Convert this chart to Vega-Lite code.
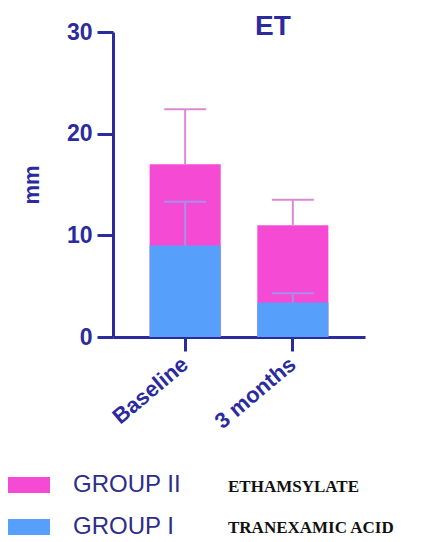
{
  "$schema": "https://vega.github.io/schema/vega-lite/v6.json",
  "width": 252,
  "height": 305,
  "autosize": {"type": "none"},
  "padding": {"left": 113, "top": 32, "right": 56, "bottom": 205},
  "background": "white",
  "title": {
    "text": "ET",
    "fontSize": 28,
    "font": "Liberation Sans",
    "fontWeight": "bold",
    "color": "#2b2b9e",
    "anchor": "middle",
    "baseline": "top",
    "frame": "group",
    "offset": 0,
    "dx": 34,
    "dy": 20
  },
  "data": {
    "values": [
      {"time": "Baseline", "group": "GROUP II", "drug": "ETHAMSYLATE", "mean": 17, "upper": 22.4},
      {"time": "3 months", "group": "GROUP II", "drug": "ETHAMSYLATE", "mean": 11, "upper": 13.5},
      {"time": "Baseline", "group": "GROUP I", "drug": "TRANEXAMIC ACID", "mean": 9, "upper": 13.3},
      {"time": "3 months", "group": "GROUP I", "drug": "TRANEXAMIC ACID", "mean": 3.4, "upper": 4.3}
    ]
  },
  "encoding": {
    "x": {
      "field": "time",
      "type": "nominal",
      "sort": ["Baseline", "3 months"],
      "scale": {"paddingInner": 0.34, "paddingOuter": 0.34},
      "axis": {
        "title": null,
        "labelAngle": -40,
        "labelAlign": "right",
        "labelBaseline": "middle",
        "labelPadding": 10,
        "labelFontSize": 22,
        "tickSize": 14
      }
    }
  },
  "layer": [
    {
      "mark": {"type": "bar"},
      "encoding": {
        "y": {
          "field": "mean",
          "type": "quantitative",
          "stack": null,
          "scale": {"domain": [0, 30], "nice": false},
          "axis": {
            "title": "mm",
            "values": [0, 10, 20, 30],
            "labelFontSize": 23,
            "labelPadding": 5,
            "tickSize": 16,
            "titleFontSize": 22,
            "titlePadding": 23
          }
        },
        "color": {
          "field": "group",
          "type": "nominal",
          "scale": {"domain": ["GROUP II", "GROUP I"], "range": ["#f54bd4", "#56a0fb"]},
          "legend": {
            "orient": "none",
            "legendX": -105,
            "legendY": 432,
            "title": null,
            "symbolType": "M-1,-0.38H1V0.38H-1Z",
            "symbolSize": 1764,
            "symbolStrokeWidth": 0,
            "symbolOpacity": 1,
            "labelFont": "Liberation Sans",
            "labelFontSize": 24,
            "labelColor": "#2d2d8a",
            "labelOffset": 23,
            "labelLimit": 300,
            "rowPadding": 9
          }
        },
        "opacity": {
          "field": "drug",
          "type": "ordinal",
          "scale": {"domain": ["ETHAMSYLATE", "TRANEXAMIC ACID"], "range": [1, 1]},
          "legend": {
            "orient": "none",
            "legendX": 98,
            "legendY": 446,
            "title": null,
            "symbolSize": 0,
            "symbolOpacity": 0,
            "symbolStrokeWidth": 0,
            "labelOffset": 0,
            "labelFont": "Liberation Serif",
            "labelFontWeight": "bold",
            "labelFontSize": 17,
            "labelColor": "#111111",
            "labelLimit": 300,
            "rowPadding": 23
          }
        }
      }
    },
    {
      "mark": {"type": "rule", "strokeWidth": 2},
      "encoding": {
        "y": {"field": "mean", "type": "quantitative"},
        "y2": {"field": "upper"},
        "stroke": {
          "field": "group",
          "type": "nominal",
          "scale": {"domain": ["GROUP II", "GROUP I"], "range": ["#d98bd2", "#a58fe8"]},
          "legend": null
        }
      }
    },
    {
      "mark": {"type": "tick", "thickness": 2, "size": 42, "opacity": 1},
      "encoding": {
        "y": {"field": "upper", "type": "quantitative"},
        "fill": {
          "field": "group",
          "type": "nominal",
          "scale": {"domain": ["GROUP II", "GROUP I"], "range": ["#d98bd2", "#a58fe8"]},
          "legend": null
        }
      }
    }
  ],
  "config": {
    "view": {"stroke": null},
    "font": "Liberation Sans",
    "axis": {
      "grid": false,
      "domainColor": "#2b2b9e",
      "domainWidth": 3,
      "tickColor": "#2b2b9e",
      "tickWidth": 3,
      "labelColor": "#2b2b9e",
      "labelFont": "Liberation Sans",
      "labelFontWeight": "bold",
      "titleColor": "#2b2b9e",
      "titleFont": "Liberation Sans",
      "titleFontWeight": "bold"
    }
  }
}
